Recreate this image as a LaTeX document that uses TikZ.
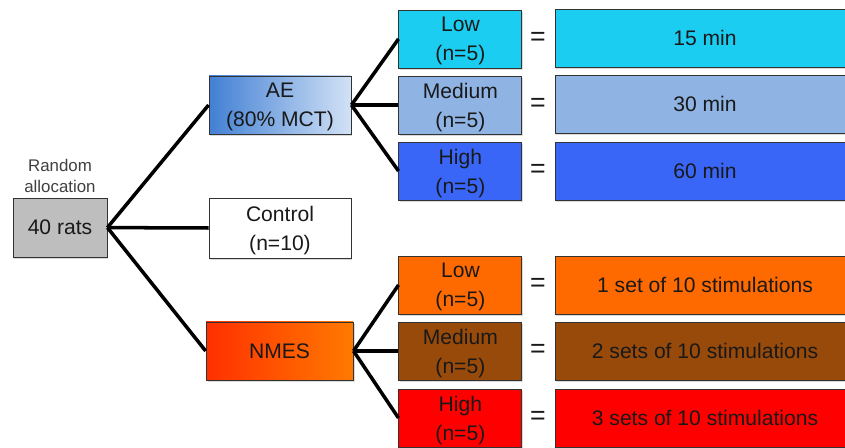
\documentclass[tikz,border=0pt]{standalone}
\usepackage{fontspec}
\setmainfont{Liberation Sans}
\usepackage{xcolor}
\usepackage{tikz}
\usetikzlibrary{positioning,shadows}
\definecolor{lowcyan}{RGB}{28,205,242}
\definecolor{medblue}{RGB}{143,180,227}
\definecolor{highblue}{RGB}{58,102,248}
\definecolor{aeleft}{RGB}{66,128,212}
\definecolor{aeright}{RGB}{210,226,246}
\definecolor{nmesleft}{RGB}{255,48,0}
\definecolor{nmesright}{RGB}{255,122,0}
\definecolor{loworange}{RGB}{255,106,0}
\definecolor{medbrown}{RGB}{152,74,10}
\definecolor{highred}{RGB}{255,0,0}
\definecolor{ratgray}{RGB}{190,190,190}
\definecolor{textdark}{RGB}{25,25,25}

\begin{document}
\begin{tikzpicture}[
  box/.style={draw=black!80, line width=0.6pt, align=center, text=textdark,
    font=\fontsize{15}{20.5}\selectfont, minimum height=1.45cm, inner sep=2pt,
    text depth=0pt,
    drop shadow={shadow xshift=1pt, shadow yshift=-1.5pt, opacity=0.3}},
  dosebox/.style={box, minimum width=3.075cm},
  timebox/.style={box, minimum width=7.5cm},
  equals/.style={text=textdark, font=\fontsize{19}{20}\selectfont},
  branch/.style={line width=2.5pt}
]
  \useasboundingbox (0,0) rectangle (21.125,11.2);
  \clip (0,0) rectangle (21.125,11.2);

  \node[box, fill=ratgray, minimum width=2.35cm, minimum height=1.475cm] (rats) at (1.5,5.51) {40 rats};
  \node[text=black!75, align=center, font=\fontsize{12}{14.5}\selectfont] (random) at (1.5,6.8) {Random\\allocation};

  \node[box, left color=aeleft, right color=aeright, minimum width=3.55cm] (ae) at (7.0,8.575) {AE\\(80\% MCT)};
  \node[box, fill=white, minimum width=3.55cm, minimum height=1.5cm] (ctrl) at (7.0,5.5) {Control\\(n=10)};
  \node[box, left color=nmesleft, right color=nmesright, minimum width=3.675cm] (nmes) at (6.99,2.425) {NMES};

  \node[dosebox, fill=lowcyan] (aelow) at (11.51,10.225) {Low\\(n=5)};
  \node[dosebox, fill=medblue] (aemed) at (11.51,8.575) {Medium\\(n=5)};
  \node[dosebox, fill=highblue] (aehigh) at (11.51,6.925) {High\\(n=5)};
  \node[dosebox, fill=loworange] (nmlow) at (11.51,4.075) {Low\\(n=5)};
  \node[dosebox, fill=medbrown] (nmmed) at (11.51,2.425) {Medium\\(n=5)};
  \node[dosebox, fill=highred] (nmhigh) at (11.51,0.75) {High\\(n=5)};

  \node[equals] (eq1) at (13.45,10.225) {=};
  \node[equals] (eq2) at (13.45,8.575) {=};
  \node[equals] (eq3) at (13.45,6.925) {=};
  \node[equals] (eq4) at (13.45,4.075) {=};
  \node[equals] (eq5) at (13.45,2.425) {=};
  \node[equals] (eq6) at (13.45,0.75) {=};

  \node[timebox, fill=lowcyan] (aelowt) at (17.625,10.25) {15 min};
  \node[timebox, fill=medblue] (aemedt) at (17.625,8.6) {30 min};
  \node[timebox, fill=highblue] (aehight) at (17.625,6.925) {60 min};
  \node[timebox, fill=loworange] (nmlowt) at (17.625,4.075) {1 set of 10 stimulations};
  \node[timebox, fill=medbrown] (nmmedt) at (17.625,2.425) {2 sets of 10 stimulations};
  \node[timebox, fill=highred] (nmhight) at (17.625,0.75) {3 sets of 10 stimulations};

  \draw[branch] (rats.east) -- (ae.west);
  \draw[branch] (rats.east) -- (ctrl.west);
  \draw[branch] (rats.east) -- (nmes.west);
  \draw[branch] (ae.east) -- (aelow.west);
  \draw[branch] (ae.east) -- (aemed.west);
  \draw[branch] (ae.east) -- (aehigh.west);
  \draw[branch] (nmes.east) -- (nmlow.west);
  \draw[branch] (nmes.east) -- (nmmed.west);
  \draw[branch] (nmes.east) -- (nmhigh.west);
\end{tikzpicture}
\end{document}
